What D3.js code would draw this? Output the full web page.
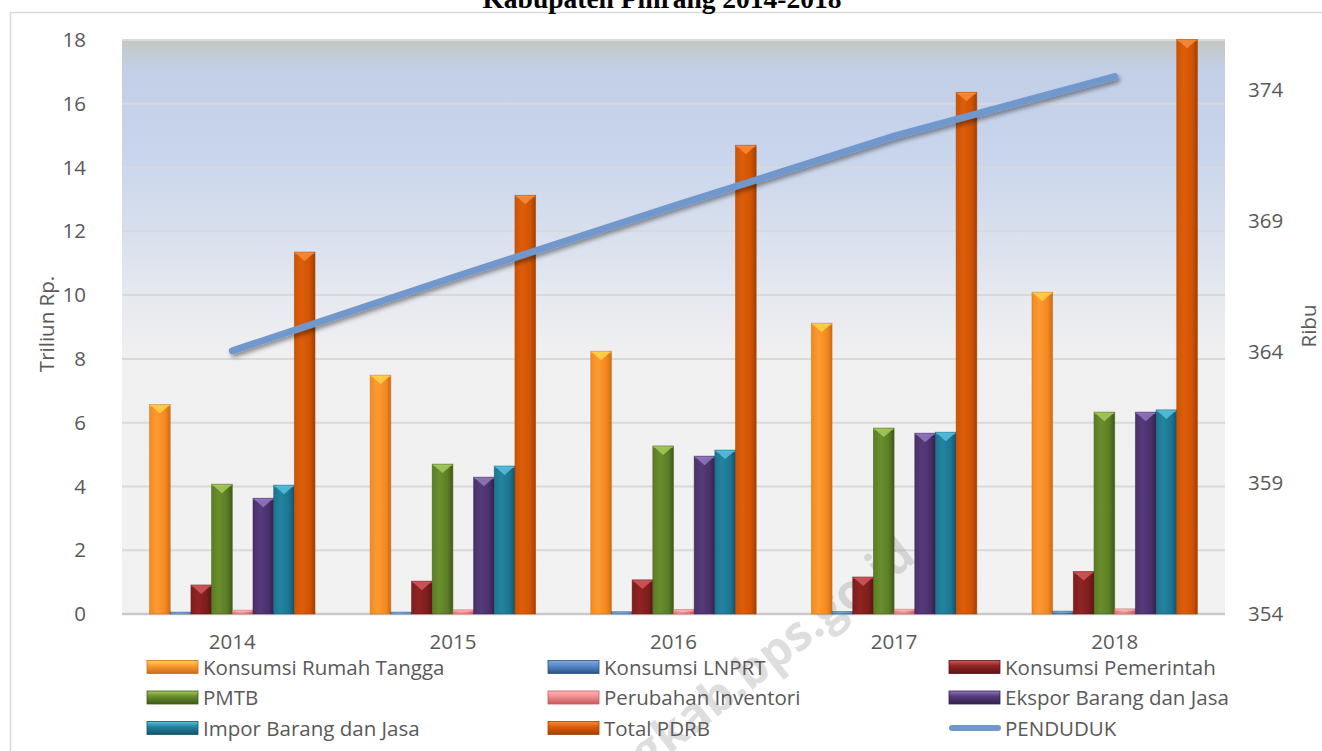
<html>
<head>
<title>PDRB Pinrang</title>
<meta charset="utf-8">
<script src="https://d3js.org/d3.v7.min.js"></script>
<style>
body { margin: 0; background: #fff; }
text { font-family: "Open Sans", "Noto Sans", sans-serif; fill: #595959; }
</style>
</head>
<body>
<script>
// data
var years = ["2014", "2015", "2016", "2017", "2018"];
var seriesNames = ["Konsumsi Rumah Tangga", "Konsumsi LNPRT", "Konsumsi Pemerintah", "PMTB",
                   "Perubahan Inventori", "Ekspor Barang dan Jasa", "Impor Barang dan Jasa", "Total PDRB"];
var rumahTangga = [6.57, 7.49, 8.24, 9.12, 10.09];
var lnprt       = [0.06, 0.06, 0.07, 0.08, 0.09];
var pemerintah  = [0.91, 1.03, 1.07, 1.16, 1.33];
var pmtb        = [4.07, 4.70, 5.27, 5.83, 6.33];
var inventori   = [0.12, 0.13, 0.14, 0.15, 0.16];
var ekspor      = [3.63, 4.29, 4.95, 5.67, 6.33];
var impor       = [4.04, 4.64, 5.14, 5.70, 6.40];
var totalPdrb   = [11.35, 13.13, 14.70, 16.36, 18.02];
var penduduk    = [364.04, 366.84, 369.56, 372.23, 374.5];
var leftTicks  = [0, 2, 4, 6, 8, 10, 12, 14, 16, 18];
var rightTicks = [354, 359, 364, 369, 374];

var seriesValues = [rumahTangga, lnprt, pemerintah, pmtb, inventori, ekspor, impor, totalPdrb];
// base, light, dark, bevel
var colors = [
  ["#f5891f", "#fc9a33", "#c96d18", "#ffd44a"],
  ["#3f6fae", "#5b8bcb", "#2b5286", "#7fa8dc"],
  ["#7f1d1d", "#8f2424", "#5e1414", "#d2595b"],
  ["#5b7d25", "#6a8e2d", "#3f5a17", "#a6cb5c"],
  ["#e8777a", "#f19294", "#c95a5d", "#ffb3b5"],
  ["#4a316b", "#56397a", "#33224c", "#9378c0"],
  ["#1d7491", "#23849f", "#135468", "#55c2df"],
  ["#d05303", "#dc5e0a", "#a14002", "#f98c3a"]
];

var W = 1322, H = 751;
var plot = {left: 122, right: 1225, top: 40, bottom: 614};
var fontSize = "20.5px";

var svg = d3.select("body").append("svg")
    .attr("width", W)
    .attr("height", H);

var defs = svg.append("defs");

// plot background gradient
var bg = defs.append("linearGradient").attr("id", "bg")
    .attr("x1", 0).attr("y1", 0).attr("x2", 0).attr("y2", 1);
[["0%", "#c4c7c2"], ["5%", "#c2cfe6"], ["20%", "#c8d5ec"], ["45%", "#e6e9ef"], ["55%", "#f0f0f1"], ["100%", "#f2f2f2"]]
  .forEach(function(s) { bg.append("stop").attr("offset", s[0]).attr("stop-color", s[1]); });

// bar gradients
colors.forEach(function(c, i) {
  var g = defs.append("linearGradient").attr("id", "bar" + i)
      .attr("x1", 0).attr("y1", 0).attr("x2", 1).attr("y2", 0);
  g.append("stop").attr("offset", "0%").attr("stop-color", c[0]);
  g.append("stop").attr("offset", "35%").attr("stop-color", c[1]);
  g.append("stop").attr("offset", "75%").attr("stop-color", c[0]);
  g.append("stop").attr("offset", "100%").attr("stop-color", c[2]);
  var lg = defs.append("linearGradient").attr("id", "leg" + i)
      .attr("x1", 0).attr("y1", 0).attr("x2", 0).attr("y2", 1);
  lg.append("stop").attr("offset", "0%").attr("stop-color", c[3]);
  lg.append("stop").attr("offset", "40%").attr("stop-color", c[1]);
  lg.append("stop").attr("offset", "100%").attr("stop-color", c[2]);
});

var shadow = defs.append("filter").attr("id", "shadow")
    .attr("x", "-10%").attr("y", "-20%").attr("width", "120%").attr("height", "150%");
shadow.append("feDropShadow").attr("dx", 2).attr("dy", 3).attr("stdDeviation", 2)
    .attr("flood-color", "#000").attr("flood-opacity", 0.4);

// chart frame
svg.append("rect")
    .attr("x", 10.5).attr("y", 12.5)
    .attr("width", 1400).attr("height", 800)
    .attr("fill", "#fff").attr("stroke", "#d9d9d9").attr("stroke-width", 1.5);

// title (cut off at the top in the source)
svg.append("text")
    .attr("x", 662).attr("y", 8)
    .attr("text-anchor", "middle")
    .style("font-family", "'Palatino Linotype', 'Book Antiqua', 'Liberation Serif', 'DejaVu Serif', serif")
    .style("font-weight", "bold")
    .style("font-size", "27.5px")
    .style("fill", "#000")
    .text("Kabupaten Pinrang 2014-2018");

// scales
var x0 = d3.scaleBand().domain(years).range([plot.left, plot.right])
    .paddingInner(0.25).paddingOuter(0.125);
var x1 = d3.scaleBand().domain(d3.range(seriesNames.length)).range([0, x0.bandwidth()]);
var y = d3.scaleLinear().domain([0, 18]).range([plot.bottom, plot.top]);
var yR = d3.scaleLinear().domain([354, 375.9]).range([plot.bottom, plot.top]);

svg.append("rect")
    .attr("x", plot.left).attr("y", plot.top)
    .attr("width", plot.right - plot.left).attr("height", plot.bottom - plot.top)
    .attr("fill", "url(#bg)");

// gridlines
svg.append("g").selectAll("line")
    .data(leftTicks)
  .enter().append("line")
    .attr("x1", plot.left).attr("x2", plot.right)
    .attr("y1", function(d) { return y(d); })
    .attr("y2", function(d) { return y(d); })
    .attr("stroke", function(d) { return d === 0 ? "#c9c9c9" : "#d9d9d9"; })
    .attr("stroke-width", function(d) { return d === 0 ? 2.5 : 2; });

// watermark (sits under the marks)
svg.append("text")
    .attr("transform", "translate(918,560) rotate(-38)")
    .attr("text-anchor", "end")
    .style("font-family", "'Open Sans', sans-serif")
    .style("font-weight", "bold")
    .style("font-size", "48px")
    .style("fill", "#8a8a8a")
    .style("opacity", 0.28)
    .text("pinrangkab.bps.go.id");

// bars
var groups = svg.append("g").selectAll("g")
    .data(years)
  .enter().append("g")
    .attr("transform", function(d) { return "translate(" + x0(d) + ",0)"; });

groups.each(function(yr, yi) {
  var g = d3.select(this);
  seriesValues.forEach(function(vals, si) {
    var v = vals[yi];
    var bx = x1(si), bw = x1.bandwidth();
    var top = y(v), h = plot.bottom - top;
    g.append("rect")
        .attr("x", bx).attr("y", top)
        .attr("width", bw).attr("height", h)
        .attr("fill", "url(#bar" + si + ")")
        .attr("stroke", colors[si][2]).attr("stroke-opacity", 0.6).attr("stroke-width", 0.8);
    var th = Math.min(9, h * 0.6);
    g.append("path")
        .attr("d", "M" + (bx + 1) + "," + (top + 0.8) + "L" + (bx + bw - 1) + "," + (top + 0.8) +
                   "L" + (bx + bw / 2) + "," + (top + th) + "Z")
        .attr("fill", colors[si][3]).attr("opacity", 0.85);
    g.append("rect")
        .attr("x", bx + 0.5).attr("y", top)
        .attr("width", bw - 1).attr("height", Math.min(2, h))
        .attr("fill", colors[si][3]).attr("opacity", 0.6);
  });
});

// population line
var line = d3.line()
    .x(function(d, i) { return x0(years[i]) + x0.bandwidth() / 2; })
    .y(function(d) { return yR(d); });

svg.append("path")
    .datum(penduduk)
    .attr("d", line)
    .attr("fill", "none")
    .attr("stroke", "#7198cc")
    .attr("stroke-width", 7)
    .attr("stroke-linecap", "round")
    .attr("stroke-linejoin", "round")
    .attr("filter", "url(#shadow)");

// axes
var axL = svg.append("g")
    .attr("transform", "translate(" + 100 + ",0)")
    .call(d3.axisLeft(y).tickValues(leftTicks).tickSize(0).tickPadding(14));
var axR = svg.append("g")
    .attr("transform", "translate(" + 1232 + ",0)")
    .call(d3.axisRight(yR).tickValues(rightTicks).tickSize(0).tickPadding(16));
var axB = svg.append("g")
    .attr("transform", "translate(0," + plot.bottom + ")")
    .call(d3.axisBottom(x0).tickSize(0).tickPadding(20));

[axL, axR, axB].forEach(function(a) {
  a.select(".domain").remove();
  a.selectAll("text")
      .style("font-family", "'Open Sans', 'Noto Sans', sans-serif")
      .style("font-size", fontSize)
      .style("fill", "#595959");
});

svg.append("text")
    .attr("transform", "translate(54,324) rotate(-90)")
    .attr("text-anchor", "middle")
    .style("font-size", fontSize)
    .text("Triliun Rp.");

svg.append("text")
    .attr("transform", "translate(1316,326) rotate(-90)")
    .attr("text-anchor", "middle")
    .style("font-size", fontSize)
    .text("Ribu");

// legend
var legendItems = seriesNames.concat(["PENDUDUK"]);
var legend = svg.append("g").selectAll("g")
    .data(legendItems)
  .enter().append("g")
    .attr("transform", function(d, i) {
      return "translate(" + (147 + (i % 3) * 401) + "," + (667 + Math.floor(i / 3) * 30.5) + ")";
    });

legend.each(function(d, i) {
  var g = d3.select(this);
  if (i < seriesNames.length) {
    g.append("rect")
        .attr("x", 0).attr("y", -6.5)
        .attr("width", 51).attr("height", 13)
        .attr("fill", "url(#leg" + i + ")")
        .attr("stroke", colors[i][2]).attr("stroke-width", 0.8);
  } else {
    g.append("line")
        .attr("x1", 3).attr("x2", 49)
        .attr("y1", 0).attr("y2", 0)
        .attr("stroke", "#7198cc").attr("stroke-width", 6)
        .attr("stroke-linecap", "round");
  }
  g.append("text")
      .attr("x", 56).attr("y", 7.5)
      .style("font-size", fontSize)
      .text(d);
});
</script>
</body>
</html>
